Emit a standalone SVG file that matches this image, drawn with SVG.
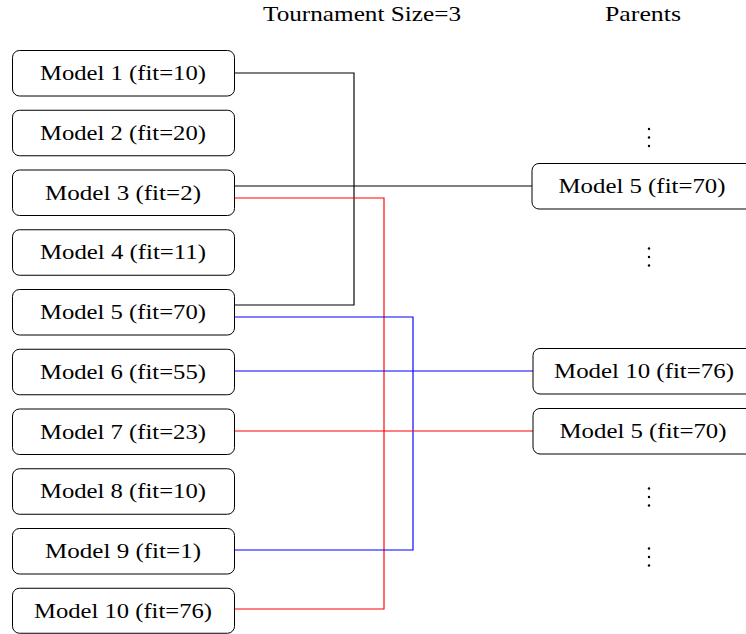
<svg xmlns="http://www.w3.org/2000/svg" width="746" height="634" viewBox="0 0 746 634">
<style>
.box{fill:#fff;stroke:#000;stroke-width:1}
.t{font-size:22px;fill:#000;text-anchor:middle}
.c{fill:none;stroke-width:1.15}
.k{stroke:#000000}
.r{stroke:#ff0000}
.b{stroke:#0000ff}
.dot{fill:#000}
</style>
<rect width="746" height="634" fill="#fff"/>
<g font-family="Liberation Serif, serif">
<text class="t" x="362" y="21" textLength="198" lengthAdjust="spacingAndGlyphs">Tournament Size=3</text>
<text class="t" x="643" y="21" textLength="76" lengthAdjust="spacingAndGlyphs">Parents</text>
</g>
<g id="connectors">
<polyline class="c k" points="234,73 354,73 354,305 234,305"/>
<polyline class="c k" points="234,186 532,186"/>
<polyline class="c r" points="234,198 384,198 384,609 234,609"/>
<polyline class="c b" points="234,317 413,317 413,550 234,550"/>
<line class="c b" x1="234" y1="371" x2="533" y2="371"/>
<line class="c r" x1="234" y1="431" x2="533" y2="431"/>
</g>
<g font-family="Liberation Serif, serif">
<g id="m1"><rect class="box" x="12.5" y="50.5" width="222" height="45.5" rx="7"/><text class="t" x="123" y="80" textLength="166" lengthAdjust="spacingAndGlyphs">Model 1 (fit=10)</text></g>
<g id="m2"><rect class="box" x="12.5" y="110.25" width="222" height="45.5" rx="7"/><text class="t" x="123" y="139.75" textLength="166" lengthAdjust="spacingAndGlyphs">Model 2 (fit=20)</text></g>
<g id="m3"><rect class="box" x="12.5" y="170" width="222" height="45.5" rx="7"/><text class="t" x="123" y="199.5" textLength="156" lengthAdjust="spacingAndGlyphs">Model 3 (fit=2)</text></g>
<g id="m4"><rect class="box" x="12.5" y="229.75" width="222" height="45.5" rx="7"/><text class="t" x="123" y="259.25" textLength="166" lengthAdjust="spacingAndGlyphs">Model 4 (fit=11)</text></g>
<g id="m5"><rect class="box" x="12.5" y="289.5" width="222" height="45.5" rx="7"/><text class="t" x="123" y="319" textLength="166" lengthAdjust="spacingAndGlyphs">Model 5 (fit=70)</text></g>
<g id="m6"><rect class="box" x="12.5" y="349.25" width="222" height="45.5" rx="7"/><text class="t" x="123" y="378.75" textLength="166" lengthAdjust="spacingAndGlyphs">Model 6 (fit=55)</text></g>
<g id="m7"><rect class="box" x="12.5" y="409" width="222" height="45.5" rx="7"/><text class="t" x="123" y="438.5" textLength="166" lengthAdjust="spacingAndGlyphs">Model 7 (fit=23)</text></g>
<g id="m8"><rect class="box" x="12.5" y="468.75" width="222" height="45.5" rx="7"/><text class="t" x="123" y="498.25" textLength="166" lengthAdjust="spacingAndGlyphs">Model 8 (fit=10)</text></g>
<g id="m9"><rect class="box" x="12.5" y="528.5" width="222" height="45.5" rx="7"/><text class="t" x="123" y="558" textLength="156" lengthAdjust="spacingAndGlyphs">Model 9 (fit=1)</text></g>
<g id="m10"><rect class="box" x="12.5" y="588.25" width="222" height="45" rx="7"/><text class="t" x="123" y="617.75" textLength="178" lengthAdjust="spacingAndGlyphs">Model 10 (fit=76)</text></g>
<g id="p1"><rect class="box" x="532" y="163.5" width="222" height="45.5" rx="7"/><text class="t" x="642" y="193" textLength="167" lengthAdjust="spacingAndGlyphs">Model 5 (fit=70)</text></g>
<g id="p2"><rect class="box" x="533" y="348.5" width="222" height="45.5" rx="7"/><text class="t" x="644" y="378" textLength="180" lengthAdjust="spacingAndGlyphs">Model 10 (fit=76)</text></g>
<g id="p3"><rect class="box" x="533" y="408.5" width="222" height="45.5" rx="7"/><text class="t" x="643" y="438" textLength="167" lengthAdjust="spacingAndGlyphs">Model 5 (fit=70)</text></g>
</g>
<g id="dots">
<circle class="dot" cx="649" cy="129" r="1.2"/><circle class="dot" cx="649" cy="137.5" r="1.2"/><circle class="dot" cx="649" cy="146" r="1.2"/>
<circle class="dot" cx="649" cy="248.5" r="1.2"/><circle class="dot" cx="649" cy="257" r="1.2"/><circle class="dot" cx="649" cy="265.5" r="1.2"/>
<circle class="dot" cx="649" cy="488.5" r="1.2"/><circle class="dot" cx="649" cy="497" r="1.2"/><circle class="dot" cx="649" cy="505.5" r="1.2"/>
<circle class="dot" cx="649" cy="548.5" r="1.2"/><circle class="dot" cx="649" cy="557" r="1.2"/><circle class="dot" cx="649" cy="565.5" r="1.2"/>
</g>
</svg>
